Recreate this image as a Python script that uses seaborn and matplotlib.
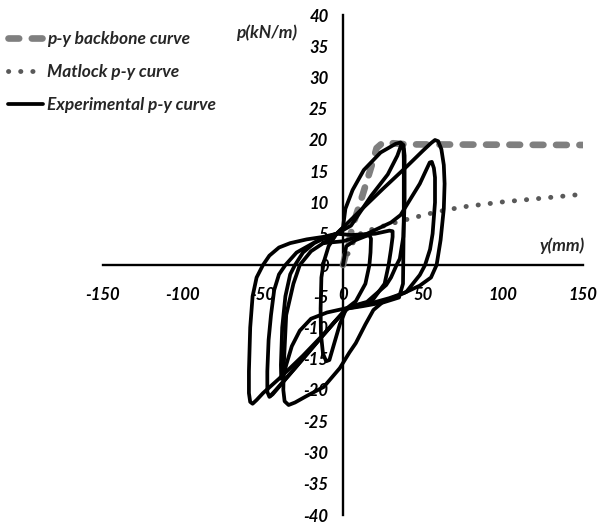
import matplotlib
matplotlib.use("Agg")
import matplotlib.pyplot as plt
import seaborn as sns
from matplotlib.lines import Line2D

sns.set_style("white")
plt.rcParams['font.family'] = ['Lato', 'DejaVu Sans']
plt.rcParams['font.weight'] = 'bold'
plt.rcParams['font.style'] = 'italic'

# p-y backbone curve
backbone_y_mm = [0, 3, 6, 12, 18, 21, 25, 40, 150]
backbone_p = [0, 3, 6.2, 11, 16, 18.7, 19.6, 19.3, 19.2]

# Matlock p-y curve
matlock_y_mm = [0, 3.3, 8, 12.7, 21, 30, 43, 58.5, 75, 100, 125, 149]
matlock_p = [0, 1.9, 4.5, 5.3, 5.9, 6.6, 7.5, 8.5, 9.3, 10.1, 10.7, 11.3]

# Experimental p-y loops, one cycle per pair of lists
cycle1_y = [0, 2, 8, 14, 16.5, 17.5, 17.2, 16.5, 14, 8, 2, -2, -6, -8.5,
            -10.5, -12.5, -13.8, -14, -13.5, -12, -9, -4]
cycle1_p = [0, 3, 4, 4.6, 4.8, 4.2, 2, 0, -3, -5.8, -7, -9.5, -13, -15.2,
            -15.4, -14.2, -11, -7, -2, 0.5, 3, 5]

cycle2_y = [-4, 5, 20, 29, 31, 31, 30, 28.5, 26, 18, 4, -10, -20, -27, -32,
            -35.5, -37.5, -38.6, -38.8, -38, -36, -33, -30, -25, -18, -10, -4]
cycle2_p = [5, 4.8, 5, 5.5, 5.4, 4.5, 2.5, 0, -3, -5.8, -6.8, -7.6, -8.6,
            -10.5, -13, -16, -18, -18.2, -16, -10, -5, -1.5, 0, 2, 3.5, 4.5, 5]

cycle3_y = [-4, 0, 1.5, 6, 13, 23.5, 33, 36, 37.8, 38.5, 38.5, 37.7, 35.5,
            33.5, 30, 27, 15, 4, -5, -15, -30, -40, -44, -46, -47.3, -47.3,
            -46.5, -45, -43, -40, -36, -29, -16.5, -4]
cycle3_p = [5, 6, 9, 12, 15.2, 18, 19.4, 19.6, 19.2, 17.5, 10, 4.5, 1, 0, -2,
            -3.2, -5.9, -6.7, -9, -12, -16.5, -19.5, -20.7, -21.1, -20.3,
            -17, -12, -8, -4, -1.5, 0, 2, 3.8, 5]

cycle4_y = [-4, 5, 17.7, 28, 34, 36.5, 37.8, 38, 38, 37.5, 35, 25, 12, 2,
            -15, -30, -42, -45.6]
cycle4_p = [5, 6.3, 11.1, 14.5, 17.5, 19.3, 18.6, 17, 8, -3, -5.2, -6, -6.6,
            -7, -12, -16.5, -20, -21]

cycle5_y = [-12.3, 0, 15, 30, 36, 42, 48, 52, 54.2, 55.5, 56.8, 57.5, 57.5,
            56, 54.4, 51.3, 48, 39.6, 25, 19, 14, 8, 4, -2, -12, -23, -30,
            -34, -36.5, -37.3, -37, -35.5, -31, -27, -20, -12.3, -4]
cycle5_p = [3.5, 3.8, 5, 6.8, 8, 10.5, 13, 15.2, 16.4, 16.5, 15.5, 14, 10, 5,
            2.5, 0, -1.6, -4.3, -5.9, -7.2, -9.5, -12.5, -14, -16.5, -19.5,
            -21, -22, -22.4, -21.8, -20, -16, -8, -3, 0, 2.2, 3.5, 5]

cycle6_y = [-4, 10, 25, 40, 50, 55, 57.5, 59.5, 61.5, 63, 63.5, 63, 61, 58.5,
            55, 48, 38, 29, 15, 2, -10, -25, -40, -50, -54, -56.5, -58,
            -58.8, -58.8, -58, -56.5, -54, -50, -46, -40, -33, -22.7, -12.3,
            -4]
cycle6_p = [5, 8.5, 12.2, 15.8, 18.3, 19.5, 20, 19.8, 18.5, 16, 13, 9, 4, 0,
            -2, -3.3, -4.5, -5.3, -6.3, -7, -10.5, -14.5, -18.2, -20.5,
            -21.6, -22.2, -21.9, -20.5, -17, -10, -5, -2, 0, 1.5, 2.8, 3.5,
            4.1, 4.5, 5]

cycles = [(cycle1_y, cycle1_p), (cycle2_y, cycle2_p), (cycle3_y, cycle3_p),
          (cycle4_y, cycle4_p), (cycle5_y, cycle5_p), (cycle6_y, cycle6_p)]

x_ticks = [-150, -100, -50, 0, 50, 100, 150]
y_ticks = list(range(-40, 41, 5))

W, H = 600, 524
fig = plt.figure(figsize=(W / 100, H / 100), dpi=100)
ax = fig.add_axes([103 / W, 9 / H, 480 / W, 500 / H])

exp_color = "black"
bb_color = "#7f7f7f"
ml_color = "#595959"
bb_style = (0, (1.6, 1.9))
ml_style = (0, (0.05, 2.45))

for cy, cp in cycles:
    sns.lineplot(x=cy, y=cp, sort=False, estimator=None, ax=ax,
                 color=exp_color, lw=2.7, zorder=3,
                 solid_joinstyle="round", solid_capstyle="round")

sns.lineplot(x=backbone_y_mm, y=backbone_p, sort=False, estimator=None, ax=ax,
             color=bb_color, lw=4.8, zorder=2.8,
             linestyle=bb_style, dash_capstyle="round")
sns.lineplot(x=matlock_y_mm, y=matlock_p, sort=False, estimator=None, ax=ax,
             color=ml_color, lw=3.5, zorder=2.8,
             linestyle=ml_style, dash_capstyle="round")

ax.set_xlim(-150, 150)
ax.set_ylim(-40, 40)
ax.set_xticks(x_ticks)
ax.set_yticks(y_ticks)
ax.set_xticklabels([str(v) for v in x_ticks])
ax.set_yticklabels([str(v) for v in y_ticks])

for side in ("top", "right"):
    ax.spines[side].set_visible(False)
ax.spines["left"].set_position(("data", 0))
ax.spines["bottom"].set_position(("data", 0))
for side in ("left", "bottom"):
    ax.spines[side].set_linewidth(1.7)
    ax.spines[side].set_color("black")

ax.tick_params(axis="both", direction="out", length=4.5, width=1.7,
               color="black", labelsize=12, labelcolor="black")
ax.tick_params(axis="x", pad=11)
ax.tick_params(axis="y", pad=6)
for lab in ax.get_xticklabels() + ax.get_yticklabels():
    lab.set_fontweight("bold")
    lab.set_fontstyle("italic")
ax.set_xlabel("")
ax.set_ylabel("")
ax.patch.set_alpha(0)

fig.text(297 / W, 1 - 33 / H, "p(kN/m)", ha="right", va="center",
         fontsize=12.5, fontweight="bold", fontstyle="italic")
fig.text(585 / W, 1 - 246 / H, "y(mm)", ha="right", va="center",
         fontsize=12.5, fontweight="bold", fontstyle="italic")

handles = [
    Line2D([], [], color=bb_color, lw=4.8, linestyle=bb_style,
           dash_capstyle="round"),
    Line2D([], [], color=ml_color, lw=3.5, linestyle=ml_style,
           dash_capstyle="round"),
    Line2D([], [], color=exp_color, lw=2.7),
]
labels = ["p-y backbone curve", "Matlock p-y curve", "Experimental p-y curve"]
leg = fig.legend(handles, labels, loc="upper left",
                 bbox_to_anchor=(8 / W, 1 - 31 / H), frameon=False,
                 handlelength=2.0, handletextpad=0.25, labelspacing=0.98,
                 borderpad=0, borderaxespad=0,
                 prop={"size": 12.5, "weight": "bold", "style": "italic"})

fig.savefig("out.png", dpi=100)
